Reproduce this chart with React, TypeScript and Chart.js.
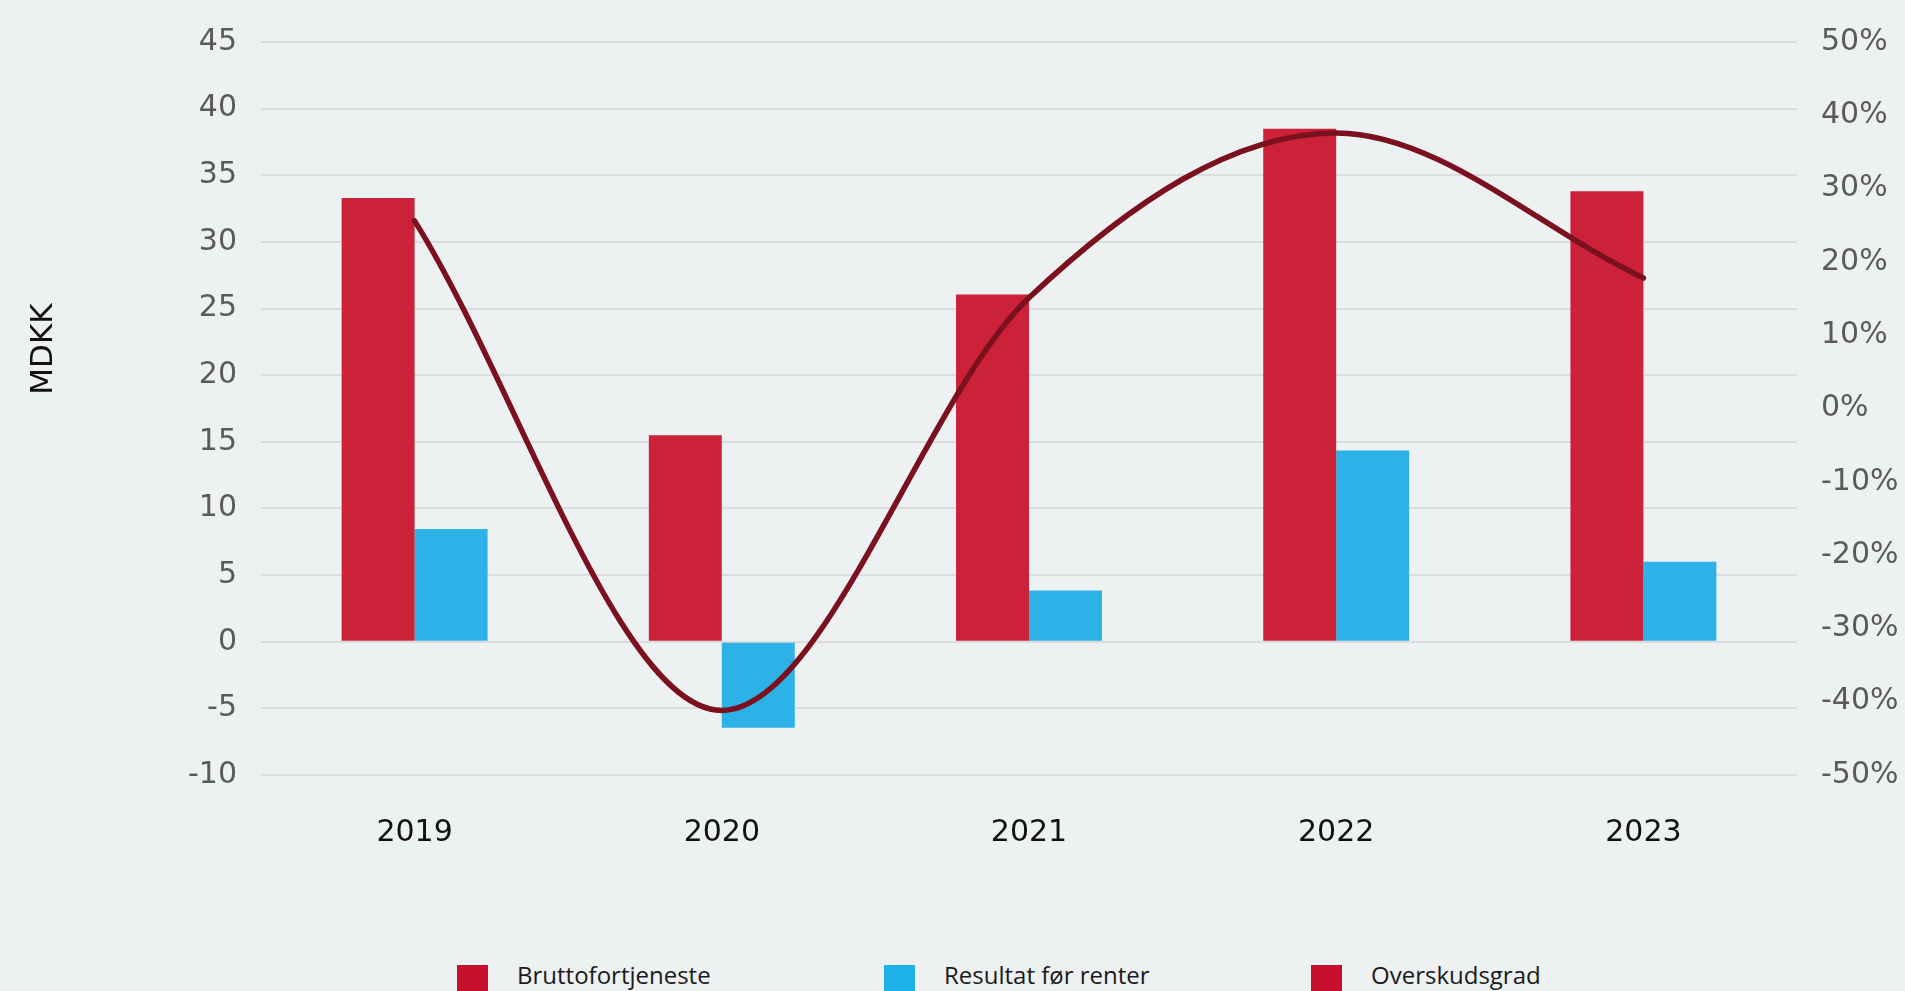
import React, { useEffect, useRef } from 'react';
import { Chart, registerables } from 'chart.js';

Chart.register(...registerables);

const years = ['2019', '2020', '2021', '2022', '2023'];
const bruttofortjeneste = [33.3, 15.5, 26.05, 38.5, 33.8];
const resultatForRenter = [8.45, -6.45, 3.85, 14.35, 6.0];
const overskudsgrad = [25.6, -41.2, 15.1, 37.6, 17.8];

const seriesNames = ['Bruttofortjeneste', 'Resultat før renter', 'Overskudsgrad'];
const legendColors = ['#C8102E', '#1EB1EA', '#C8102E'];
const yTitle = 'MDKK';

const leftMin = -10;
const leftMax = 45;
const leftStep = 5;
const rightMin = -50;
const rightMax = 50;
const rightStep = 10;

const BG = '#EEF1F2';
const RED = '#CB2139';
const BLUE = '#2CB2E7';
const LINE = '#7B111F';
const TICK_GREY = '#5A5A5A';
const GRID = '#DADCDD';

const yTitlePlugin = {
  id: 'yTitlePlugin',
  afterDraw(chart: any) {
    const ctx = chart.ctx;
    ctx.save();
    ctx.translate(51.8, 349);
    ctx.rotate(-Math.PI / 2);
    ctx.font = '31px "DejaVu Sans"';
    ctx.fillStyle = '#111111';
    ctx.textAlign = 'center';
    ctx.textBaseline = 'alphabetic';
    ctx.fillText(yTitle, 0, 0);
    ctx.restore();
  },
};

export default function App() {
  const canvasRef = useRef<HTMLCanvasElement | null>(null);

  useEffect(() => {
    if (!canvasRef.current) return;
    const chart = new Chart(canvasRef.current, {
      type: 'bar',
      data: {
        labels: years,
        datasets: [
          {
            type: 'line',
            label: seriesNames[2],
            data: overskudsgrad,
            yAxisID: 'y1',
            borderColor: LINE,
            backgroundColor: LINE,
            borderWidth: 5.5,
            pointRadius: 0,
            pointHoverRadius: 0,
            cubicInterpolationMode: 'monotone',
            borderCapStyle: 'round',
            fill: false,
            order: 0,
          } as any,
          {
            type: 'bar',
            label: seriesNames[0],
            data: bruttofortjeneste,
            yAxisID: 'y',
            backgroundColor: RED,
            borderWidth: 0,
            categoryPercentage: 0.475,
            barPercentage: 1,
            order: 1,
          } as any,
          {
            type: 'bar',
            label: seriesNames[1],
            data: resultatForRenter,
            yAxisID: 'y',
            backgroundColor: BLUE,
            borderWidth: 0,
            categoryPercentage: 0.475,
            barPercentage: 1,
            order: 1,
          } as any,
        ],
      },
      options: {
        responsive: false,
        animation: false,
        devicePixelRatio: 1,
        layout: { padding: { top: 41, left: 0, right: 0, bottom: 0 } },
        plugins: {
          legend: { display: false },
          tooltip: { enabled: false },
          title: { display: false },
        },
        scales: {
          x: {
            grid: { display: false, drawTicks: false },
            border: { display: false },
            ticks: {
              color: '#111111',
              font: { family: '"DejaVu Sans"', size: 30 },
              padding: 40,
            },
            afterFit(scale: any) {
              scale.height = 95;
            },
          },
          y: {
            position: 'left',
            min: leftMin,
            max: leftMax,
            grid: { color: GRID, lineWidth: 2, drawTicks: false },
            border: { display: false },
            ticks: {
              stepSize: leftStep,
              color: TICK_GREY,
              font: { family: '"DejaVu Sans"', size: 30 },
              padding: 24,
            },
            afterFit(scale: any) {
              scale.width = 261;
            },
          },
          y1: {
            position: 'right',
            min: rightMin,
            max: rightMax,
            grid: { display: false, drawTicks: false },
            border: { display: false },
            ticks: {
              stepSize: rightStep,
              color: TICK_GREY,
              font: { family: '"DejaVu Sans"', size: 30 },
              padding: 24,
              callback: (v: any) => `${v}%`,
            },
            afterFit(scale: any) {
              scale.width = 108;
            },
          },
        },
      } as any,
      plugins: [yTitlePlugin],
    });
    return () => chart.destroy();
  }, []);

  return (
    <div
      style={{
        position: 'fixed',
        left: 0,
        top: 0,
        width: 1905,
        height: 991,
        overflow: 'hidden',
        background: BG,
      }}
    >
      <canvas
        ref={canvasRef}
        width={1905}
        height={870}
        style={{ position: 'absolute', left: 0, top: 0, width: 1905, height: 870 }}
      />
      <div
        style={{
          position: 'absolute',
          left: 457,
          top: 962.5,
          display: 'flex',
          alignItems: 'flex-start',
        }}
      >
        {seriesNames.map((name, i) => (
          <div key={name} style={{ width: 427, display: 'flex', alignItems: 'flex-start' }}>
            <div
              style={{
                width: 31,
                height: 31,
                marginTop: 2.5,
                marginRight: 29,
                background: legendColors[i],
                flex: '0 0 auto',
              }}
            />
            <span
              style={{
                fontFamily: '"Open Sans", sans-serif',
                fontSize: 24,
                lineHeight: '24px',
                color: '#1A1A1A',
                whiteSpace: 'nowrap',
              }}
            >
              {name}
            </span>
          </div>
        ))}
      </div>
    </div>
  );
}
